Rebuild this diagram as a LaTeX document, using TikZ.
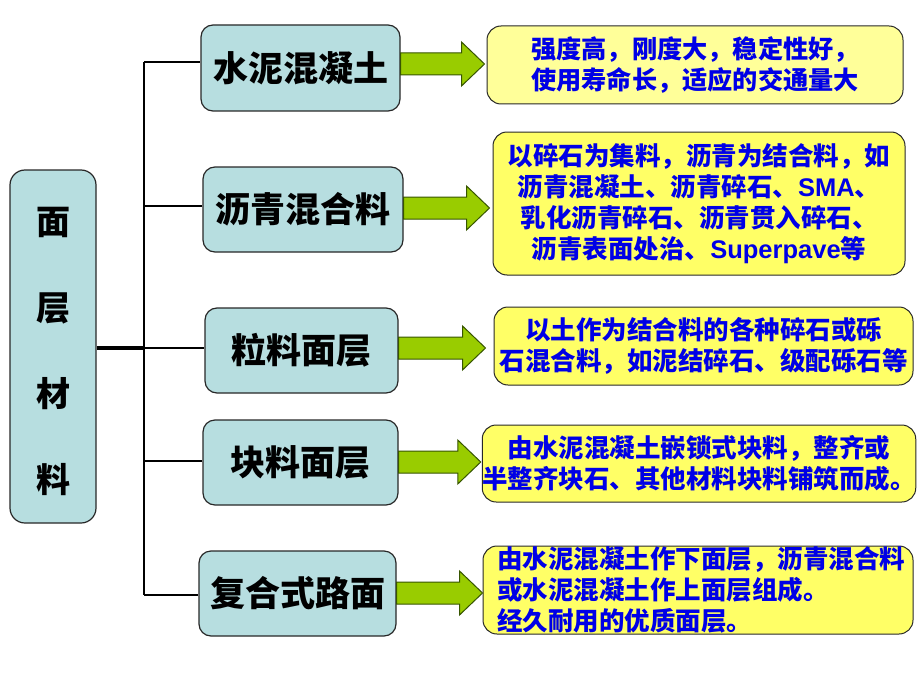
\documentclass[tikz,border=0pt]{standalone}
\usepackage{fontspec}
\setmainfont{Noto Sans CJK SC}
\newfontfamily\lat{Liberation Sans}
\usetikzlibrary{calc}
\definecolor{cyanfill}{RGB}{183,222,224}
\definecolor{yel1}{RGB}{255,255,153}
\definecolor{yel2}{RGB}{255,255,102}
\definecolor{grn}{RGB}{153,204,0}
\definecolor{grnline}{RGB}{55,85,0}
\definecolor{txtblue}{RGB}{0,0,230}
\definecolor{edge}{RGB}{40,40,40}
\newcommand\garr[4]{%
  \draw[garrow] let \p1=(#1.east), \p2=(#2.west) in
   (\x1,-#3pt+11pt) -- (\x2-#4pt-23pt,-#3pt+11pt) -- (\x2-#4pt-23pt,-#3pt+22pt)
   -- (\x2-#4pt,-#3pt) -- (\x2-#4pt-23pt,-#3pt-22pt) -- (\x2-#4pt-23pt,-#3pt-11pt)
   -- (\x1,-#3pt-11pt) -- cycle;}
\begin{document}
\begin{tikzpicture}[x=1pt,y=-1pt,
  leftbox/.style={draw=edge, line width=1.2pt, fill=cyanfill, rounded corners=15pt, inner sep=0pt,
    align=center, font=\fontsize{34}{86}\selectfont\bfseries},
  midbox/.style={draw=edge, line width=1.2pt, fill=cyanfill, rounded corners=12pt, inner sep=0pt,
    font=\fontsize{35}{40}\selectfont\bfseries},
  descbox/.style={draw=edge, line width=1pt, rounded corners=14pt, inner sep=0pt, text=txtblue,
    align=center, font=\fontsize{25.5}{31}\selectfont\bfseries},
  garrow/.style={draw=grnline, line width=1pt, fill=grn, line join=miter},
  tree/.style={line width=2.6pt, draw=black}]
\useasboundingbox (0,0) rectangle (920,690);
\fill[white] (0,0) rectangle (920,690);

% left box
\node[leftbox, minimum width=86pt, minimum height=353pt] (L) at (53,346.5) {};
\node[align=center, inner sep=0pt, font=\fontsize{34}{86}\selectfont\bfseries] (Lt) at (53,351) {面\\层\\材\\料};

% middle boxes
\node[midbox, minimum width=199pt, minimum height=86pt] (m1) at (300.5,68) {水泥混凝土};
\node[midbox, minimum width=200pt, minimum height=85pt] (m2) at (303,209.5) {沥青混合料};
\node[midbox, minimum width=193pt, minimum height=85pt] (m3) at (301.5,350.5) {粒料面层};
\node[midbox, minimum width=195pt, minimum height=85pt] (m4) at (300.5,462.5) {块料面层};
\node[midbox, minimum width=197pt, minimum height=85pt] (m5) at (297.5,593.5) {复合式路面};

% right boxes
\node[descbox, fill=yel1, minimum width=416pt, minimum height=78pt, font=\fontsize{25.2}{31}\selectfont\bfseries]
  (r1) at (695,65) {强度高，刚度大，稳定性好，\\使用寿命长，适应的交通量大};
\node[descbox, fill=yel2, minimum width=412pt, minimum height=143pt] (r2) at (699,203.5)
  {以碎石为集料，沥青为结合料，如\\沥青混凝土、沥青碎石、{\lat\bfseries SMA}、\\乳化沥青碎石、沥青贯入碎石、\\沥青表面处治、{\lat\bfseries Superpave}等};
\node[descbox, fill=yel2, minimum width=419pt, minimum height=78pt] (r3) at (703.5,346)
  {以土作为结合料的各种碎石或砾\\石混合料，如泥结碎石、级配砾石等};
\node[descbox, fill=yel2, minimum width=428pt, minimum height=77pt] (r4) at (699,463.5)
  {由水泥混凝土嵌锁式块料，整齐或\\半整齐块石、其他材料块料铺筑而成。};
\node[descbox, fill=yel2, minimum width=430pt, minimum height=88pt, align=left, inner xsep=0pt] (r5) at (698,590)
  {\hspace*{6pt}由水泥混凝土作下面层，沥青混合料\\\hspace*{6pt}或水泥混凝土作上面层组成。\\\hspace*{6pt}经久耐用的优质面层。};

% tree connectors
\coordinate (t1) at (144,62);
\coordinate (t2) at (144,206);
\coordinate (t3) at (144,348);
\coordinate (t4) at (144,461);
\coordinate (t5) at (144,595);
\draw[tree] (t1) -- (t5);
\draw[tree, line width=3.5pt] (L.east |- t3) -- (t3);
\draw[tree] (t1) -- (t1 -| m1.west);
\draw[tree] (t2) -- (t2 -| m2.west);
\draw[tree] (t3) -- (t3 -| m3.west);
\draw[tree] (t4) -- (t4 -| m4.west);
\draw[tree] (t5) -- (t5 -| m5.west);

% block arrows
\garr{m1}{r1}{64}{2}
\garr{m2}{r2}{208}{3}
\garr{m3}{r3}{348}{8}
\garr{m4}{r4}{462}{1}
\garr{m5}{r5}{593}{0}
\end{tikzpicture}
\end{document}
